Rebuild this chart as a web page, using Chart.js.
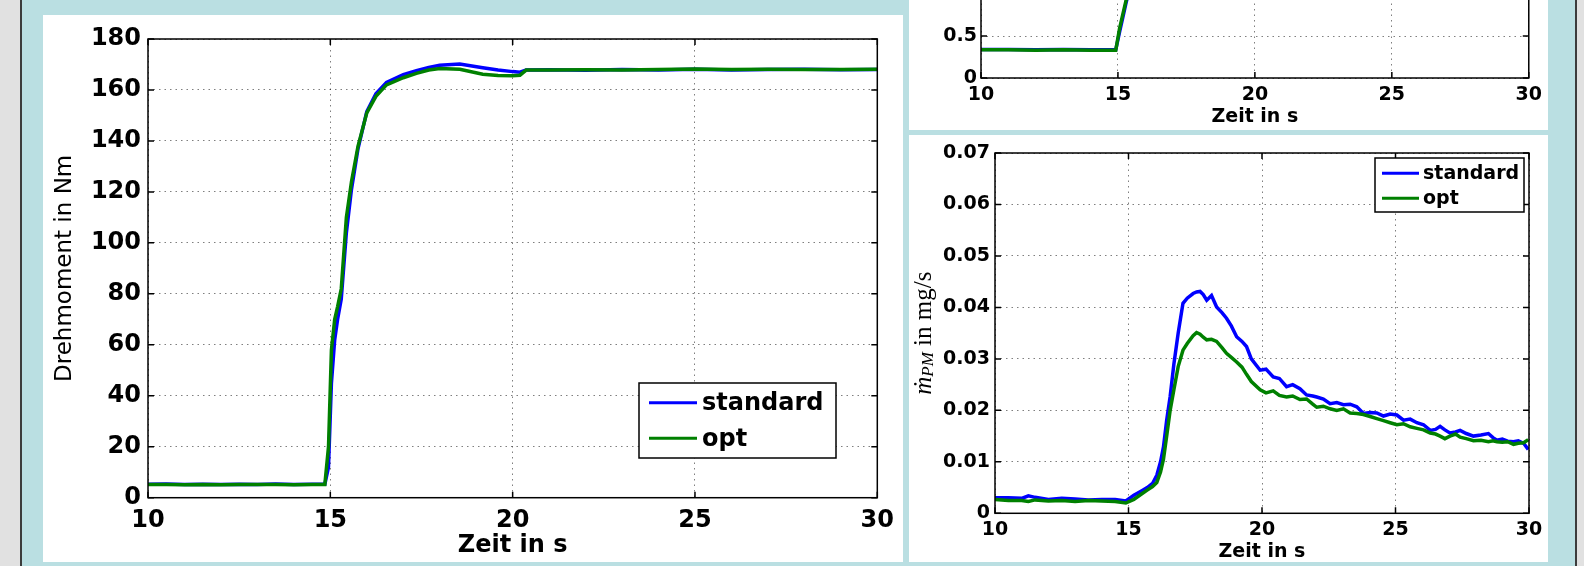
<!DOCTYPE html>
<html>
<head>
<meta charset="utf-8">
<script src="https://cdn.jsdelivr.net/npm/chart.js@4.4.0/dist/chart.umd.min.js"></script>
<style>
  body { margin: 0; width: 1584px; height: 566px; overflow: hidden; background: #badfe2; position: relative; }
  .panel { position: absolute; background: #fff; }
  .edge { position: absolute; top: 0; height: 566px; background: #e1e1e1; }
  .line { position: absolute; top: 0; height: 566px; width: 2px; background: #3c3c3c; }
</style>
</head>
<body>
<div class="edge" style="left:0;width:20px"></div>
<div class="line" style="left:20px"></div>
<div class="line" style="left:1575px"></div>
<div class="edge" style="left:1577px;width:7px"></div>

<div class="panel" style="left:43px;top:15px;width:860px;height:547px">
  <canvas id="torque" width="860" height="547"></canvas>
</div>
<div class="panel" style="left:909px;top:-200px;width:639px;height:330px">
  <canvas id="upper" width="639" height="330"></canvas>
</div>
<div class="panel" style="left:909px;top:135px;width:639px;height:427px">
  <canvas id="pm" width="639" height="427"></canvas>
</div>

<script>
// tick values of the axes
const timeTicks = [10, 15, 20, 25, 30];
const torqueTicks = [0, 20, 40, 60, 80, 100, 120, 140, 160, 180];
const upperTicks = [0, 0.5, 1, 1.5, 2];
const pmTicks = [0, 0.01, 0.02, 0.03, 0.04, 0.05, 0.06, 0.07];

// Drehmoment (left plot)
const timeTorque = [10, 10.5, 11, 11.5, 12, 12.5, 13, 13.5, 14, 14.5, 14.85, 14.95, 15.03, 15.12, 15.2, 15.3,
  15.44, 15.58, 15.76, 16.0, 16.25, 16.54, 17.0, 17.36, 17.7, 18.0, 18.55, 19.18, 19.6, 20.0, 20.2, 20.37,
  21, 22, 23, 24, 25, 26, 27, 28, 29, 30];
const torqueStandard = [5.3, 5.4, 5.2, 5.3, 5.2, 5.3, 5.2, 5.4, 5.2, 5.3, 5.3, 12, 45, 62, 70, 78,
  104, 121, 137, 151.5, 158.5, 163, 166, 167.6, 168.8, 169.7, 170.2, 168.7, 167.8, 167.2, 167.0, 167.8,
  167.9, 167.7, 168.0, 167.8, 168.1, 167.8, 168.0, 168.1, 167.9, 168.0];
const torqueOpt = [5.2, 5.2, 5.1, 5.2, 5.1, 5.2, 5.2, 5.2, 5.1, 5.2, 5.2, 20, 58, 70, 75, 82,
  110, 124, 138, 151, 157.5, 162, 164.8, 166.5, 167.8, 168.4, 168.1, 166.2, 165.7, 165.6, 165.8, 167.8,
  167.8, 167.9, 167.8, 168.0, 168.2, 168.0, 168.1, 168.0, 168.0, 168.1];

// upper right plot (mostly cut off at the top of the picture)
const timeUpper = [10, 11, 12, 13, 14, 14.92, 15.06, 15.15, 15.3, 15.5, 16, 17, 18, 20, 25, 30];
const upperStandard = [0.34, 0.34, 0.335, 0.34, 0.335, 0.335, 0.55, 0.68, 0.9, 1.15, 1.5, 1.7, 1.75, 1.72, 1.73, 1.73];
const upperOpt = [0.335, 0.335, 0.33, 0.335, 0.33, 0.33, 0.59, 0.72, 0.93, 1.18, 1.5, 1.68, 1.7, 1.7, 1.72, 1.72];

// Partikelmasse (lower right plot)
const timePm = [10, 10.5, 11, 11.25, 11.5, 12, 12.5, 13, 13.5, 14, 14.5, 14.9, 15.2, 15.5, 15.7, 15.9,
  16.06, 16.2, 16.31, 16.43, 16.56, 16.7, 16.86, 17.04, 17.2, 17.42, 17.55, 17.68, 17.8, 17.93, 18.11,
  18.3, 18.5, 18.67, 18.85, 19.05, 19.25, 19.42, 19.6, 19.93, 20.15, 20.42, 20.65, 20.92, 21.15, 21.42,
  21.67, 21.9, 22.05, 22.3, 22.55, 22.8, 23.05, 23.3, 23.55, 23.8, 24.05, 24.3, 24.55, 24.8, 25.05,
  25.3, 25.55, 25.8, 26.05, 26.3, 26.5, 26.67, 26.85, 27.04, 27.25, 27.42, 27.65, 27.92, 28.2, 28.48,
  28.65, 28.8, 29.0, 29.2, 29.42, 29.6, 29.8, 29.97];
const pmStandard = [0.0030, 0.0030, 0.0029, 0.0034, 0.0031, 0.0027, 0.0029, 0.0028, 0.0026, 0.0027, 0.0027,
  0.0024, 0.0035, 0.0044, 0.0050, 0.0058, 0.0074, 0.0100, 0.0129, 0.0181, 0.0227, 0.0290, 0.0350, 0.0408,
  0.0418, 0.0427, 0.0430, 0.0431, 0.0425, 0.0414, 0.0423, 0.0401, 0.0390, 0.0379, 0.0364, 0.0343, 0.0334,
  0.0324, 0.0300, 0.0278, 0.0280, 0.0265, 0.0262, 0.0246, 0.0250, 0.0242, 0.0230, 0.0228, 0.0226, 0.0222,
  0.0213, 0.0215, 0.0211, 0.0212, 0.0207, 0.0194, 0.0196, 0.0195, 0.0189, 0.0193, 0.0191, 0.0181, 0.0183,
  0.0176, 0.0172, 0.0161, 0.0163, 0.0169, 0.0162, 0.0156, 0.0158, 0.0161, 0.0155, 0.0150, 0.0152, 0.0155,
  0.0147, 0.0142, 0.0144, 0.0140, 0.0139, 0.0141, 0.0136, 0.0124];
const pmOpt = [0.0027, 0.0025, 0.0025, 0.0023, 0.0026, 0.0024, 0.0025, 0.0023, 0.0025, 0.0024, 0.0023,
  0.0020, 0.0027, 0.0038, 0.0045, 0.0052, 0.0060, 0.0080, 0.0105, 0.0150, 0.0200, 0.0240, 0.0285, 0.0317,
  0.0330, 0.0345, 0.0351, 0.0348, 0.0342, 0.0337, 0.0338, 0.0334, 0.0322, 0.0311, 0.0303, 0.0294, 0.0284,
  0.0270, 0.0256, 0.0240, 0.0234, 0.0238, 0.0229, 0.0226, 0.0228, 0.0221, 0.0222, 0.0212, 0.0206, 0.0208,
  0.0203, 0.0200, 0.0203, 0.0195, 0.0194, 0.0192, 0.0188, 0.0184, 0.0180, 0.0176, 0.0172, 0.0174, 0.0168,
  0.0165, 0.0162, 0.0156, 0.0154, 0.0150, 0.0145, 0.0150, 0.0154, 0.0148, 0.0145, 0.0141, 0.0142, 0.0139,
  0.0141, 0.0139, 0.0138, 0.0139, 0.0134, 0.0136, 0.0137, 0.0143];

const seriesNames = ['standard', 'opt'];
const seriesColors = ['#0000ff', '#008000'];
const gridColor = 'rgba(0,0,0,0.5)';

// box round the plot, ticks pointing inwards, legend, and the LaTeX-like y title
const matlabLook = {
  id: 'matlabLook',
  afterDraw(chart, args, opts) {
    const ctx = chart.ctx;
    const a = chart.chartArea;
    const x = chart.scales.x;
    const y = chart.scales.y;
    ctx.save();
    ctx.strokeStyle = '#000';
    ctx.lineWidth = 1.5;
    ctx.beginPath();
    x.ticks.forEach(t => {
      const px = x.getPixelForValue(t.value);
      ctx.moveTo(px, a.bottom); ctx.lineTo(px, a.bottom - opts.tick);
      ctx.moveTo(px, a.top); ctx.lineTo(px, a.top + opts.tick);
    });
    y.ticks.forEach(t => {
      const py = y.getPixelForValue(t.value);
      ctx.moveTo(a.left, py); ctx.lineTo(a.left + opts.tick, py);
      ctx.moveTo(a.right, py); ctx.lineTo(a.right - opts.tick, py);
    });
    ctx.stroke();
    ctx.strokeRect(a.left, a.top, a.right - a.left, a.bottom - a.top);

    if (opts.legend) {
      const L = opts.legend;
      ctx.fillStyle = '#fff';
      ctx.fillRect(L.box[0], L.box[1], L.box[2], L.box[3]);
      ctx.strokeRect(L.box[0], L.box[1], L.box[2], L.box[3]);
      ctx.font = L.font;
      ctx.textBaseline = 'middle';
      ctx.textAlign = 'left';
      chart.data.datasets.forEach((ds, i) => {
        ctx.strokeStyle = ds.borderColor;
        ctx.lineWidth = 3;
        ctx.beginPath();
        ctx.moveTo(L.line[0], L.rows[i]);
        ctx.lineTo(L.line[1], L.rows[i]);
        ctx.stroke();
        ctx.fillStyle = '#000';
        ctx.fillText(ds.label, L.textX, L.rows[i] + 1);
      });
    }

    if (opts.yTitle) {
      const T = opts.yTitle;
      const parts = [
        { text: '\u1E41', font: 'italic 25px "Liberation Serif", "DejaVu Serif", serif', dy: 0 },
        { text: 'PM', font: 'italic 17px "Liberation Serif", "DejaVu Serif", serif', dy: 5 },
        { text: ' in mg/s', font: '25px "Liberation Serif", "DejaVu Serif", serif', dy: 0 }
      ];
      let total = 0;
      parts.forEach(p => { ctx.font = p.font; p.w = ctx.measureText(p.text).width; total += p.w; });
      ctx.translate(T.x, (a.top + a.bottom) / 2);
      ctx.rotate(-Math.PI / 2);
      ctx.fillStyle = '#000';
      ctx.textBaseline = 'middle';
      ctx.textAlign = 'left';
      let cx = -total / 2;
      parts.forEach(p => {
        ctx.font = p.font;
        ctx.fillText(p.text, cx, p.dy);
        cx += p.w;
      });
    }
    ctx.restore();
  }
};

function lineSet(name, xs, ys, color, order) {
  const points = [];
  for (let i = 0; i < xs.length; i++) {
    points.push({ x: xs[i], y: ys[i] });
  }
  return {
    label: name, data: points, borderColor: color, backgroundColor: color,
    borderWidth: 3.5, pointRadius: 0, tension: 0, order: order
  };
}

function xScale(tickSize, tickPad, titleSize, titlePad, height) {
  return {
    type: 'linear',
    min: timeTicks[0],
    max: timeTicks[timeTicks.length - 1],
    afterBuildTicks: s => { s.ticks = timeTicks.map(v => ({ value: v })); },
    afterFit: s => { s.height = height; },
    grid: { color: gridColor, lineWidth: 1, drawTicks: false },
    border: { display: false, dash: [1.5, 4] },
    ticks: { color: '#000', padding: tickPad, maxRotation: 0, autoSkip: false,
      font: { family: 'DejaVu Sans', size: tickSize, weight: 'bold' } },
    title: { display: true, text: 'Zeit in s', color: '#000', padding: { top: 0, bottom: titlePad },
      font: { family: 'DejaVu Sans', size: titleSize, weight: 'bold', lineHeight: 1 } }
  };
}

function yScale(tickVals, tickSize, tickPad, width, title) {
  return {
    type: 'linear',
    min: tickVals[0],
    max: tickVals[tickVals.length - 1],
    afterBuildTicks: s => { s.ticks = tickVals.map(v => ({ value: v })); },
    afterFit: s => { s.width = width; },
    grid: { color: gridColor, lineWidth: 1, drawTicks: false },
    border: { display: false, dash: [1.5, 4] },
    ticks: { color: '#000', padding: tickPad, autoSkip: false,
      callback: v => (v === 0 ? '0' : String(Math.round(v * 1000) / 1000)),
      font: { family: 'DejaVu Sans', size: tickSize, weight: 'bold' } },
    title: title
  };
}

Chart.register(matlabLook);

new Chart(document.getElementById('torque'), {
  type: 'line',
  data: {
    datasets: [
      lineSet(seriesNames[0], timeTorque, torqueStandard, seriesColors[0], 1),
      lineSet(seriesNames[1], timeTorque, torqueOpt, seriesColors[1], 0)
    ]
  },
  options: {
    responsive: false,
    animation: false,
    layout: { padding: { left: 0, top: 24, right: 25, bottom: 0 } },
    scales: {
      x: xScale(24, 9, 24, 4, 64.3),
      y: yScale(torqueTicks, 24, 7, 105, {
        display: true, text: 'Drehmoment in Nm', color: '#000', padding: { top: 8, bottom: 0 },
        font: { family: 'DejaVu Sans', size: 23, weight: 'normal' }
      })
    },
    plugins: {
      legend: { display: false },
      tooltip: { enabled: false },
      matlabLook: {
        tick: 6,
        legend: { box: [596, 368, 197, 75], line: [606, 654], textX: 659, rows: [387.7, 423.3],
          font: 'bold 24px "DejaVu Sans"' }
      }
    }
  }
});

new Chart(document.getElementById('upper'), {
  type: 'line',
  data: {
    datasets: [
      lineSet(seriesNames[0], timeUpper, upperStandard, seriesColors[0], 1),
      lineSet(seriesNames[1], timeUpper, upperOpt, seriesColors[1], 0)
    ]
  },
  options: {
    responsive: false,
    animation: false,
    layout: { padding: { left: 0, top: 110, right: 18, bottom: 0 } },
    scales: {
      x: xScale(19, 6, 19, 3, 52),
      y: yScale(upperTicks, 19, 4, 72, { display: false })
    },
    plugins: {
      legend: { display: false },
      tooltip: { enabled: false },
      matlabLook: { tick: 6 }
    }
  }
});

new Chart(document.getElementById('pm'), {
  type: 'line',
  data: {
    datasets: [
      lineSet(seriesNames[0], timePm, pmStandard, seriesColors[0], 1),
      lineSet(seriesNames[1], timePm, pmOpt, seriesColors[1], 0)
    ]
  },
  options: {
    responsive: false,
    animation: false,
    layout: { padding: { left: 0, top: 18, right: 19, bottom: 0 } },
    scales: {
      x: xScale(19, 5, 19, 0.5, 48.7),
      y: yScale(pmTicks, 19, 5, 86, { display: false })
    },
    plugins: {
      legend: { display: false },
      tooltip: { enabled: false },
      matlabLook: {
        tick: 6,
        legend: { box: [466, 23, 149, 54], line: [473, 510], textX: 514, rows: [38.3, 63.3],
          font: 'bold 19px "DejaVu Sans"' },
        yTitle: { x: 15 }
      }
    }
  }
});
</script>
</body>
</html>
